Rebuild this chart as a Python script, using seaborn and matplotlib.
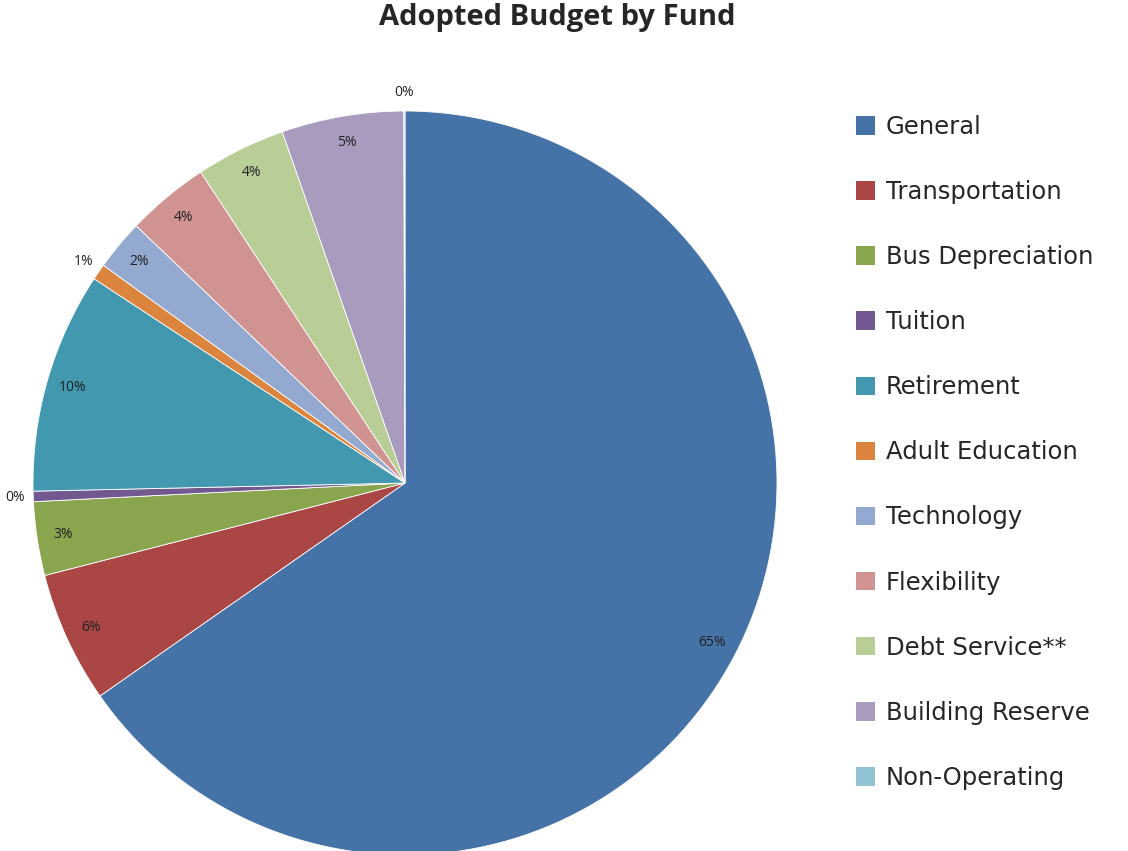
import numpy as np
import matplotlib
matplotlib.use('Agg')
import matplotlib.pyplot as plt
from matplotlib.patches import Patch
import seaborn as sns

# ---------------- data ----------------
funds = ['General', 'Transportation', 'Bus Depreciation', 'Tuition',
         'Retirement', 'Adult Education', 'Technology', 'Flexibility',
         'Debt Service**', 'Building Reserve', 'Non-Operating']
shares = [65.3, 5.7, 3.2, 0.45, 9.6, 0.7, 2.2, 3.6, 3.9, 5.3, 0.05]
fund_colors = ['#4572A7', '#AA4643', '#89A54E', '#71588F', '#4198AF',
               '#DB843D', '#93A9CF', '#D19392', '#B9CD96', '#A99BBD',
               '#92C3D5']

sns.set_theme(style='white')
plt.rcParams['font.family'] = ['Open Sans', 'DejaVu Sans']
pal = sns.color_palette(fund_colors)

fig = plt.figure(figsize=(11.28, 8.51), dpi=100)
# square axes: pie centre at (405, 483) px, radius 372 px
ax = fig.add_axes([33 / 1128, (851 - 855) / 851, 744 / 1128, 744 / 851])

wedges, _ = ax.pie(shares, colors=pal, startangle=90, counterclock=False,
                   radius=1.0, wedgeprops=dict(edgecolor='white', linewidth=0.6))
ax.set_xlim(-1, 1)
ax.set_ylim(-1, 1)
ax.set_aspect('equal')
ax.axis('off')

total = sum(shares)
for w, v in zip(wedges, shares):
    mid = np.deg2rad((w.theta1 + w.theta2) / 2)
    pct = v / total * 100
    r = 0.93 if pct >= 1.5 else 1.05
    ax.text(r * np.cos(mid), r * np.sin(mid), f'{pct:.0f}%',
            ha='center', va='center', fontsize=10, color='#222222')

fig.text(557 / 1128, 1 - 18 / 851, 'Adopted Budget by Fund',
         ha='center', va='center', fontsize=21, fontweight='bold')

handles = [Patch(facecolor=c, edgecolor='none') for c in pal]
fig.legend(handles, funds, loc='upper left',
           bbox_to_anchor=(856 / 1128, 1 - 115 / 851),
           frameon=False, prop={'family': 'DejaVu Sans', 'size': 17.5},
           handlelength=0.8, handleheight=0.8,
           handletextpad=0.42, labelspacing=1.69, borderpad=0, borderaxespad=0)

fig.savefig('out.png', dpi=100)
